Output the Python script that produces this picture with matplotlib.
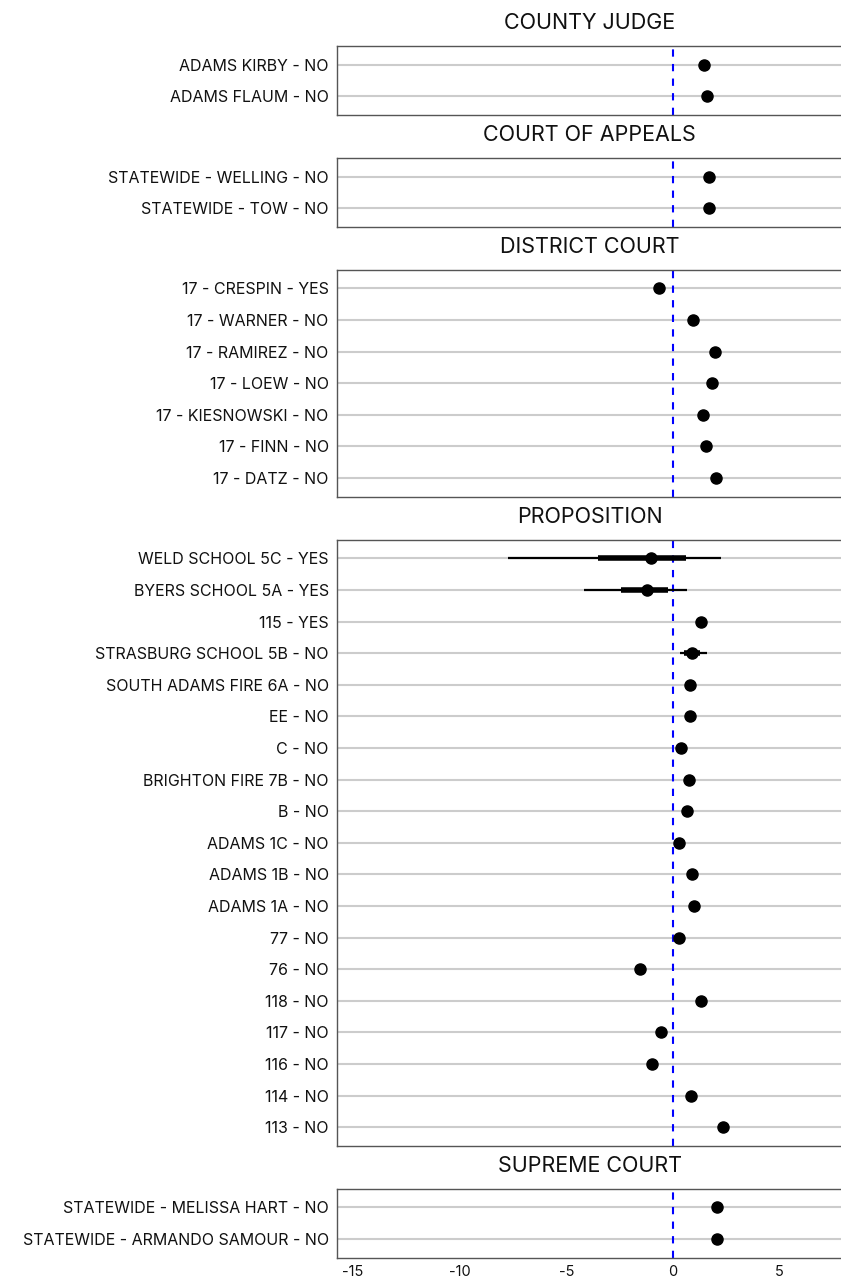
import matplotlib
matplotlib.use("Agg")
import matplotlib.pyplot as plt

plt.rcParams['font.family'] = ['Inter', 'DejaVu Sans']

# race groups, top to bottom
county_labels = ["ADAMS KIRBY - NO", "ADAMS FLAUM - NO"]
county_est = [1.45, 1.6]

appeals_labels = ["STATEWIDE - WELLING - NO", "STATEWIDE - TOW - NO"]
appeals_est = [1.7, 1.7]

district_labels = ["17 - CRESPIN - YES", "17 - WARNER - NO", "17 - RAMIREZ - NO",
                   "17 - LOEW - NO", "17 - KIESNOWSKI - NO", "17 - FINN - NO",
                   "17 - DATZ - NO"]
district_est = [-0.68, 0.95, 1.98, 1.84, 1.4, 1.56, 2.03]

prop_labels = ["WELD SCHOOL 5C - YES", "BYERS SCHOOL 5A - YES", "115 - YES",
               "STRASBURG SCHOOL 5B - NO", "SOUTH ADAMS FIRE 6A - NO", "EE - NO",
               "C - NO", "BRIGHTON FIRE 7B - NO", "B - NO", "ADAMS 1C - NO",
               "ADAMS 1B - NO", "ADAMS 1A - NO", "77 - NO", "76 - NO", "118 - NO",
               "117 - NO", "116 - NO", "114 - NO", "113 - NO"]
prop_est = [-1.02, -1.2, 1.33, 0.88, 0.78, 0.78, 0.38, 0.73, 0.67, 0.30,
            0.90, 0.97, 0.30, -1.55, 1.33, -0.58, -0.99, 0.82, 2.32]
# intervals where wide enough to show (outer 95%, inner 66%)
prop_lo95 = {0: -7.72, 1: -4.16, 3: 0.31}
prop_hi95 = {0: 2.27, 1: 0.67, 3: 1.6}
prop_lo66 = {0: -3.5, 1: -2.46, 3: 0.5}
prop_hi66 = {0: 0.63, 1: -0.22, 3: 1.25}

supreme_labels = ["STATEWIDE - MELISSA HART - NO", "STATEWIDE - ARMANDO SAMOUR - NO"]
supreme_est = [2.07, 2.07]

panels = [
    ("COUNTY JUDGE", county_labels, county_est, {}, {}, {}, {}),
    ("COURT OF APPEALS", appeals_labels, appeals_est, {}, {}, {}, {}),
    ("DISTRICT COURT", district_labels, district_est, {}, {}, {}, {}),
    ("PROPOSITION", prop_labels, prop_est, prop_lo95, prop_hi95, prop_lo66, prop_hi66),
    ("SUPREME COURT", supreme_labels, supreme_est, {}, {}, {}, {}),
]

W, H = 841, 1279
fig = plt.figure(figsize=(W / 100, H / 100), dpi=100)

left_px, right_px = 337, 842
top_px = 46
unit = 31.6
pad = 0.59
gap = 43

for i, (title, labels, est, lo95, hi95, lo66, hi66) in enumerate(panels):
    n = len(labels)
    h = (n - 1 + 2 * pad) * unit
    ax = fig.add_axes([left_px / W, 1 - (top_px + h) / H,
                       (right_px - left_px) / W, h / H])
    top_px += h + gap
    ys = list(range(n - 1, -1, -1))
    ax.set_ylim(-pad, n - 1 + pad)
    ax.set_xlim(-15.75, 7.92)
    for y in ys:
        ax.axhline(y, color="#cccccc", lw=1.5, zorder=0)
    ax.axvline(0, color="blue", lw=1.5, ls=(0, (3.5, 3.5)), zorder=1)
    for k, y in enumerate(ys):
        if k in lo95:
            ax.plot([lo95[k], hi95[k]], [y, y], color="black", lw=1.6,
                    solid_capstyle="butt", zorder=2)
            ax.plot([lo66[k], hi66[k]], [y, y], color="black", lw=4,
                    solid_capstyle="butt", zorder=2)
    ax.plot(est, ys, "o", color="black", ms=8, zorder=3)
    ax.set_yticks(ys)
    ax.set_yticklabels(labels, fontsize=11.5, color="#111111")
    ax.tick_params(axis="y", length=0, pad=6)
    for s in ax.spines.values():
        s.set_color("#555555")
        s.set_linewidth(1)
    ax.spines["right"].set_visible(False)
    ax.set_title(title, fontsize=15.5, pad=12, color="#111111")
    if i < len(panels) - 1:
        ax.set_xticks([])
    else:
        ax.set_xticks([-15, -10, -5, 0, 5])
        ax.set_xticklabels(["-15", "-10", "-5", "0", "5"], fontsize=10.5, color="#111111")
        ax.tick_params(axis="x", length=0, pad=5)

fig.savefig("out.png", dpi=100)
